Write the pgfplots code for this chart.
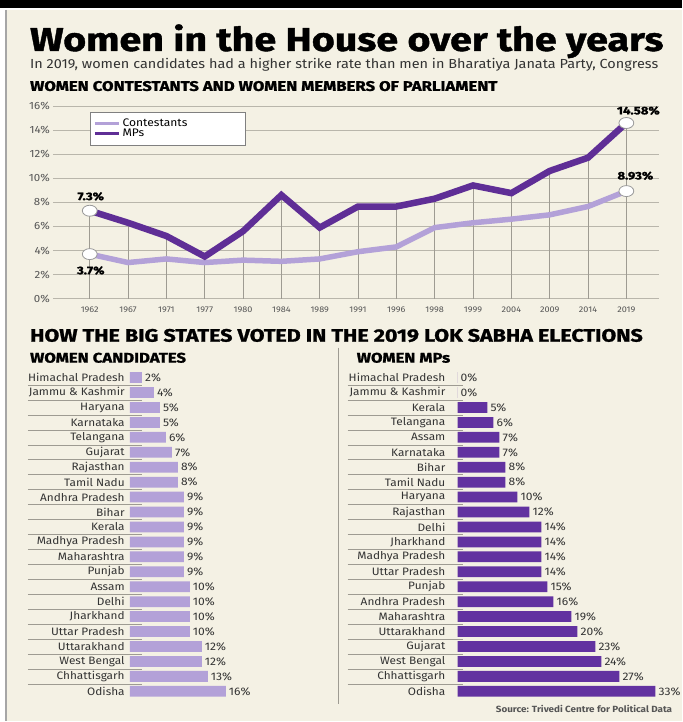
\documentclass[border=0pt]{standalone}
\usepackage{pgfplots}
\pgfplotsset{compat=1.18}
\usepackage{fontspec}
\setmainfont{Fira Sans}[FakeStretch=1.1]
\newfontfamily\heavyf{Fira Sans}[FakeStretch=1.2, BoldFeatures={FakeBold=1.3}]
\newcommand\heavy{\heavyf\bfseries}
\definecolor{bg}{HTML}{F4F1E4}
\definecolor{lightp}{HTML}{B3A1D8}
\definecolor{darkp}{HTML}{5F2E96}
\definecolor{barp}{HTML}{6232A0}
\definecolor{gridc}{HTML}{B9B6AB}
\definecolor{sepc}{HTML}{9E9B92}
\definecolor{tickc}{HTML}{555555}
\definecolor{labc}{HTML}{333333}
\pgfplotsset{/pgf/number format/assume math mode=true}
\pgfplotsset{barax/.style={
  scale only axis, width=210bp, height=329bp,
  xmin=0, xmax=35, ymin=-0.5, ymax=21.5, y dir=reverse,
  xbar, bar width=0.72,
  axis line style={draw=none}, xtick=\empty, ytick={0,...,21},
  major tick length=0, tick style={draw=none},
  yticklabel style={font=\fontsize{10.8}{11}\selectfont, text=labc, inner sep=0pt, xshift=-5bp},
  clip=false,
  point meta=x,
  nodes near coords={\pgfmathprintnumber{\pgfplotspointmeta}\%},
  nodes near coords style={font=\fontsize{11}{11}\selectfont, text=labc, anchor=west, inner sep=0pt, xshift=3bp},
}}
\begin{document}
\begin{tikzpicture}
\fill[white] (0bp,0bp) rectangle (683bp,-722bp);
\fill[bg] (7bp,-10bp) rectangle (683bp,-722bp);
\fill[black] (0bp,0bp) rectangle (683bp,-8bp);
\draw[gray!70, line width=1.5bp] (6bp,-10bp) -- (6bp,-722bp);
% titles
\node[anchor=base west, inner sep=0pt, font=\heavy\fontsize{33}{33}\selectfont] at (30bp,-51bp) {Women in the House over the years};
\node[anchor=base west, inner sep=0pt, font=\fontsize{13.2}{13.2}\selectfont, text=labc] at (30bp,-69bp) {In 2019, women candidates had a higher strike rate than men in Bharatiya Janata Party, Congress};
\node[anchor=base west, inner sep=0pt, font=\heavy\fontsize{14}{14}\selectfont] at (30bp,-91bp) {WOMEN CONTESTANTS AND WOMEN MEMBERS OF PARLIAMENT};
\node[anchor=base west, inner sep=0pt, font=\heavy\fontsize{18}{18}\selectfont] at (30bp,-342bp) {HOW THE BIG STATES VOTED IN THE 2019 LOK SABHA ELECTIONS};
\node[anchor=base west, inner sep=0pt, font=\heavy\fontsize{14}{14}\selectfont] at (30bp,-363bp) {WOMEN CANDIDATES};
\node[anchor=base west, inner sep=0pt, font=\heavy\fontsize{14}{14}\selectfont] at (357bp,-363bp) {WOMEN MPs};
\node[anchor=base east, inner sep=0pt, font=\bfseries\fontsize{9}{9}\selectfont, text=tickc] at (673bp,-713bp) {Source: Trivedi Centre for Political Data};
% separators
\draw[sepc, line width=0.8bp] (339bp,-348bp) -- (339bp,-705bp);
\foreach \i in {1,...,21} {
  \draw[sepc, line width=0.6bp] (28bp,{-370.5bp-14.955bp*\i}) -- (142bp,{-370.5bp-14.955bp*\i});
  \draw[sepc, line width=0.6bp] (348bp,{-370.5bp-14.955bp*\i}) -- (463bp,{-370.5bp-14.955bp*\i});
}
% line chart
\begin{axis}[
  at={(53bp,-299bp)}, anchor=south west, scale only axis,
  width=607bp, height=193bp,
  xmin=-0.96, xmax=14.86, ymin=0, ymax=16,
  axis line style={draw=none},
  ytick={0,2,...,16}, ymajorgrids, grid style={gridc, line width=0.7bp},
  yticklabel={\pgfmathprintnumber{\tick}\%},
  yticklabel style={font=\fontsize{10.5}{10.5}\selectfont, text=tickc, inner sep=0pt, xshift=-3bp},
  xtick={0,...,14},
  xticklabels={1962,1967,1971,1977,1980,1984,1989,1991,1996,1998,1999,2004,2009,2014,2019},
  xticklabel style={font=\fontsize{8.3}{8.3}\selectfont, text=tickc, inner sep=0pt, yshift=-8.5bp},
  major tick length=0, tick style={draw=none},
  clip=false,
  legend style={at={(0.061,0.969)}, anchor=north west, draw=gray, fill=white,
    font=\fontsize{11}{11}\selectfont, inner xsep=3bp, inner ysep=5bp, row sep=-3bp},
  legend cell align=left,
  legend image code/.code={\draw[#1, line width=3.5bp] (0bp,0bp) -- (24bp,0bp);},
]
\addplot[ycomb, draw=sepc, line width=0.6bp, forget plot] coordinates {
(0,7.3)(1,6.3)(2,5.2)(3,3.5)(4,5.6)(5,8.6)(6,5.9)(7,7.65)(8,7.65)(9,8.3)(10,9.4)(11,8.76)(12,10.6)(13,11.7)(14,14.58)};
\addplot[lightp, line width=5.5bp, line join=miter] coordinates {
(0,3.7)(1,3.0)(2,3.3)(3,3.0)(4,3.2)(5,3.1)(6,3.3)(7,3.9)(8,4.3)(9,5.9)(10,6.3)(11,6.6)(12,6.96)(13,7.65)(14,8.93)};
\addlegendentry{Contestants\hspace*{53bp}}
\addplot[darkp, line width=6.5bp, line join=miter] coordinates {
(0,7.3)(1,6.3)(2,5.2)(3,3.5)(4,5.6)(5,8.6)(6,5.9)(7,7.65)(8,7.65)(9,8.3)(10,9.4)(11,8.76)(12,10.6)(13,11.7)(14,14.58)};
\addlegendentry{MPs}
\addplot[only marks, mark=*, mark size=5.5bp, mark options={fill=white, draw=gray!80, line width=0.8bp, xscale=1.35}, forget plot] coordinates {(0,7.3)(0,3.7)(14,14.58)(14,8.93)};
\node[anchor=south, inner sep=0pt, font=\heavy\fontsize{11}{11}\selectfont, yshift=10bp, xshift=1bp] at (axis cs:0,7.3) {7.3\%};
\node[anchor=north, inner sep=0pt, font=\heavy\fontsize{11}{11}\selectfont, yshift=-12bp, xshift=1bp] at (axis cs:0,3.7) {3.7\%};
\node[anchor=south, inner sep=0pt, font=\heavy\fontsize{11}{11}\selectfont, yshift=8bp, xshift=12bp] at (axis cs:14,14.58) {14.58\%};
\node[anchor=south, inner sep=0pt, font=\heavy\fontsize{11}{11}\selectfont, yshift=11bp, xshift=9bp] at (axis cs:14,8.93) {8.93\%};
\end{axis}
% left bars
\begin{axis}[barax, at={(130bp,-370.5bp)}, anchor=north west,
  yticklabels={Himachal Pradesh,Jammu \& Kashmir,Haryana,Karnataka,Telangana,Gujarat,Rajasthan,Tamil Nadu,Andhra Pradesh,Bihar,Kerala,Madhya Pradesh,Maharashtra,Punjab,Assam,Delhi,Jharkhand,Uttar Pradesh,Uttarakhand,West Bengal,Chhattisgarh,Odisha}]
\addplot[fill=lightp, draw=none] coordinates {
(2,0)(4,1)(5,2)(5,3)(6,4)(7,5)(8,6)(8,7)(9,8)(9,9)(9,10)(9,11)(9,12)(9,13)(10,14)(10,15)(10,16)(10,17)(12,18)(12,19)(13,20)(16,21)};
\end{axis}
% right bars
\begin{axis}[barax, at={(458bp,-370.5bp)}, anchor=north west,
  yticklabel style={xshift=-7bp},
  yticklabels={Himachal Pradesh,Jammu \& Kashmir,Kerala,Telangana,Assam,Karnataka,Bihar,Tamil Nadu,Haryana,Rajasthan,Delhi,Jharkhand,Madhya Pradesh,Uttar Pradesh,Punjab,Andhra Pradesh,Maharashtra,Uttarakhand,Gujarat,West Bengal,Chhattisgarh,Odisha}]
\addplot[fill=barp, draw=none] coordinates {
(0,0)(0,1)(5,2)(6,3)(7,4)(7,5)(8,6)(8,7)(10,8)(12,9)(14,10)(14,11)(14,12)(14,13)(15,14)(16,15)(19,16)(20,17)(23,18)(24,19)(27,20)(33,21)};
\end{axis}
\end{tikzpicture}
\end{document}
